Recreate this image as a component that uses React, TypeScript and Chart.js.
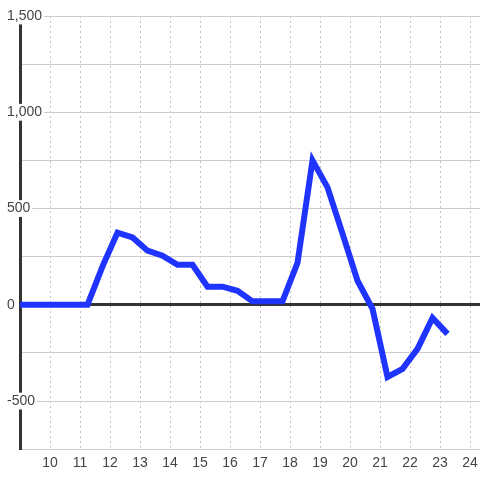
import { useEffect, useRef } from "react";
import { Chart, registerables } from "chart.js";

Chart.register(...registerables);

const hours = [8.75, 9.25, 9.75, 10.25, 10.75, 11.25, 11.75, 12.25, 12.75, 13.25, 13.75, 14.25, 14.75, 15.25, 15.75, 16.25, 16.75, 17.25, 17.75, 18.25, 18.75, 19.25, 19.75, 20.25, 20.75, 21.25, 21.75, 22.25, 22.75, 23.25];
const values = [0, 0, 0, 0, 0, 0, 200, 375, 350, 281, 255, 208, 208, 94, 94, 73, 18, 18, 18, 218, 750, 610, 370, 125, -21, -375, -333, -229, -68, -151];
const xTickValues = [10, 11, 12, 13, 14, 15, 16, 17, 18, 19, 20, 21, 22, 23, 24];
const yLabelValues = [-500, 0, 500, 1000, 1500];

const FONT = "'Liberation Sans', Arial, sans-serif";

export default function App() {
  const ref = useRef<HTMLCanvasElement>(null);
  useEffect(() => {
    document.body.style.margin = "0";
    const canvas = ref.current!;
    const chart = new Chart(canvas, {
      type: "line",
      data: {
        datasets: [
          {
            data: hours.map((h, i) => ({ x: h, y: values[i] })),
            borderColor: "#1f34ff",
            borderWidth: 6,
            pointRadius: 0,
            tension: 0,
            fill: false,
          },
        ],
      },
      options: {
        responsive: false,
        animation: false,
        layout: { padding: { left: 7, right: 0, top: 16, bottom: 2 } },
        plugins: { legend: { display: false }, tooltip: { enabled: false } },
        scales: {
          x: {
            type: "linear",
            min: 9,
            max: 24.333,
            afterBuildTicks: (scale: any) => {
              scale.ticks = xTickValues.map((v) => ({ value: v }));
            },
            afterFit: (scale: any) => {
              scale.paddingRight = 0;
              scale.paddingLeft = 0;
            },
            grid: { color: "#c4c4c4", lineWidth: 1, drawTicks: false },
            border: { display: false, dash: [2, 3] },
            ticks: {
              padding: 6,
              color: "#444",
              font: { family: FONT, size: 14 },
              maxRotation: 0,
              autoSkip: false,
              callback: (v: any) => String(v),
            },
          },
          y: {
            min: -750,
            max: 1500,
            afterFit: (scale: any) => {
              scale.width = 13;
            },
            ticks: {
              stepSize: 250,
              autoSkip: false,
              mirror: true,
              padding: -13,
              color: "#444",
              font: { family: FONT, size: 14 },
              showLabelBackdrop: true,
              backdropColor: "#ffffff",
              backdropPadding: { top: 0, bottom: 0, left: 2, right: 2 },
              callback: (v: any) =>
                yLabelValues.includes(Number(v)) ? Number(v).toLocaleString("en-US") : "",
            },
            grid: {
              drawTicks: false,
              color: (ctx: any) => (ctx.tick && ctx.tick.value === 0 ? "#333" : "#cccccc"),
              lineWidth: (ctx: any) => (ctx.tick && ctx.tick.value === 0 ? 3 : 1),
            },
            border: { display: true, color: "#333", width: 3 },
          },
        },
      } as any,
    });
    return () => chart.destroy();
  }, []);
  return (
    <canvas
      ref={ref}
      width={480}
      height={480}
      style={{ position: "absolute", left: 0, top: 0, width: 480, height: 480 }}
    />
  );
}
